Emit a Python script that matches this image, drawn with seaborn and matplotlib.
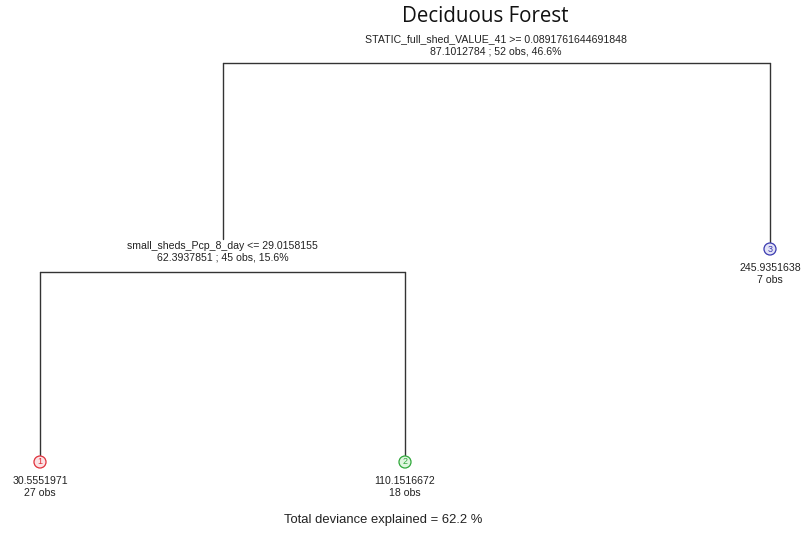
import matplotlib
matplotlib.use("Agg")
import matplotlib.pyplot as plt
import seaborn as sns
import pandas as pd

# Tree data (leaves left to right)
leaf_ids = ["1", "2", "3"]
leaf_means = ["30.5551971", "110.1516672", "245.9351638"]
leaf_obs = [27, 18, 7]
leaf_colors = ["#e0303a", "#2fa83a", "#3a3ab0"]
leaf_fill = ["#fbe3e6", "#dff5df", "#e3e3f6"]
# node heights (drawing units, top = small)
leaf_y = [455, 455, 242]
split_y = [63, 272]   # root, left split

root_label = ["STATIC_full_shed_VALUE_41 >= 0.0891761644691848",
              "87.1012784 ; 52 obs, 46.6%"]
left_label = ["small_sheds_Pcp_8_day <= 29.0158155",
              "62.3937851 ; 45 obs, 15.6%"]
title = "Deciduous Forest"
footer = "Total deviance explained = 62.2 %"

sns.set_style("white")
plt.rcParams['font.family'] = ['Liberation Sans', 'DejaVu Sans']

fig = plt.figure(figsize=(8.02, 5.33), dpi=100)
ax = fig.add_axes([0, 0, 1, 1])

leaf_x = [0, 1, 2]
left_x = (leaf_x[0] + leaf_x[1]) / 2
root_x = (left_x + leaf_x[2]) / 2

# segments of the dendrogram
segs = []
def seg(k, x0, y0, x1, y1):
    segs.append({"seg": k, "x": x0, "y": y0})
    segs.append({"seg": k, "x": x1, "y": y1})

# root: horizontal bar from left child to right child
seg(0, left_x, split_y[0], leaf_x[2], split_y[0])
seg(1, left_x, split_y[0], left_x, split_y[1] - 33)   # stops above the split label
seg(2, leaf_x[2], split_y[0], leaf_x[2], leaf_y[2])
# left split
seg(3, leaf_x[0], split_y[1], leaf_x[1], split_y[1])
seg(4, leaf_x[0], split_y[1], leaf_x[0], leaf_y[0])
seg(5, leaf_x[1], split_y[1], leaf_x[1], leaf_y[1])
segs = pd.DataFrame(segs)

sns.lineplot(data=segs, x="x", y="y", units="seg", estimator=None, sort=False,
             color="#333333", lw=1.0, ax=ax, legend=False)

# leaf markers
leaves = pd.DataFrame({"x": leaf_x, "y": [v + 7 for v in leaf_y], "id": leaf_ids})
sns.scatterplot(data=leaves, x="x", y="y", hue="id", palette=leaf_fill, s=75,
                edgecolor=leaf_colors, linewidth=0.9, ax=ax, legend=False, zorder=3)
fs = 7.6
for i in range(3):
    cy = leaf_y[i] + 7
    ax.text(leaf_x[i], cy, leaf_ids[i], ha="center", va="center", fontsize=6.5,
            color=leaf_colors[i], zorder=4)
    ax.text(leaf_x[i], cy + 19, leaf_means[i], ha="center", va="center", fontsize=fs, color="#222222")
    ax.text(leaf_x[i], cy + 31, f"{leaf_obs[i]} obs", ha="center", va="center", fontsize=fs, color="#222222")

# split labels
ax.text(root_x, split_y[0] - 24, root_label[0], ha="center", va="center", fontsize=fs, color="#222222")
ax.text(root_x, split_y[0] - 12, root_label[1], ha="center", va="center", fontsize=fs, color="#222222")
ax.text(left_x, split_y[1] - 26, left_label[0], ha="center", va="center", fontsize=fs, color="#222222")
ax.text(left_x, split_y[1] - 14, left_label[1], ha="center", va="center", fontsize=fs, color="#222222")

ax.text(root_x - 0.03, 16, title, ha="center", va="center", fontsize=14.8, color="#111111",
        family=["Open Sans", "DejaVu Sans"])
ax.text(0.94, 520, footer, ha="center", va="center", fontsize=9.4, color="#222222")

ax.set_xlim(-40 / 365, (802 - 40) / 365)
ax.set_ylim(533, 0)
ax.axis("off")

fig.savefig("out.png", dpi=100)
